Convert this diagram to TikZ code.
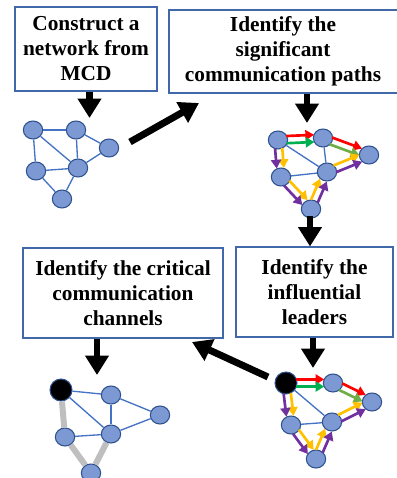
\documentclass[tikz,border=0pt]{standalone}
\usepackage{fontspec}
\setmainfont{Liberation Serif}
\definecolor{nodeblue}{RGB}{125, 153, 212}
\definecolor{nodeline}{RGB}{47, 82, 143}
\definecolor{edgeblue}{RGB}{68, 114, 196}
\definecolor{boxline}{RGB}{65, 105, 170}
\definecolor{pathred}{RGB}{255, 0, 0}
\definecolor{pathgreen}{RGB}{0, 176, 80}
\definecolor{patholive}{RGB}{112, 173, 71}
\definecolor{pathorange}{RGB}{255, 192, 0}
\definecolor{pathpurple}{RGB}{112, 48, 160}
\definecolor{channelgrey}{RGB}{191, 191, 191}
\usetikzlibrary{shapes.geometric, arrows.meta, calc}

\tikzset{
  stepbox/.style={draw=boxline, line width=0.8pt, fill=white, align=center, inner sep=0pt,
    font=\fontsize{16}{18.75}\selectfont\bfseries},
  member/.style={ellipse, draw=nodeline, line width=0.8pt, fill=nodeblue, inner sep=0pt,
    minimum width=14.5pt, minimum height=13.5pt},
  leader/.style={member, fill=black, minimum width=16.5pt, minimum height=16.5pt},
  link/.style={edgeblue, line width=1pt},
  critical/.style={channelgrey, line width=4.5pt},
  bigarrow/.style={line width=5.2pt, -{Triangle[width=17pt, length=14.5pt]}},
  patharrow/.style={line width=2pt, -{Triangle[width=7.5pt, length=6.5pt]},
    shorten <=6.3pt, shorten >=6.6pt}
}

% two parallel coloured paths from #1 to #2
\newcommand{\pathpair}[4]{%
  \draw[patharrow, #3] ($(#1)!2.7pt!90:(#2)$) -- ($(#2)!2.7pt!-90:(#1)$);
  \draw[patharrow, #4] ($(#1)!2.7pt!-90:(#2)$) -- ($(#2)!2.7pt!90:(#1)$);
}

\begin{document}
\begin{tikzpicture}[x=0.75pt, y=-0.75pt]
  \useasboundingbox (0,0) rectangle (396,478);

  % steps
  \node[stepbox, minimum width=180pt, minimum height=62.25pt] (paths) at (289,51.5)
    {\hspace*{-9pt}Identify the\\\hspace*{-9pt}significant\\\hspace*{-9pt}communication paths};
  \node[stepbox, minimum width=106.5pt, minimum height=63pt] (construct) at (86,49)
    {Construct a\\network from\\MCD};
  \node[stepbox, minimum width=150pt, minimum height=67.5pt] (channels) at (123,293)
    {Identify the critical\\communication\\channels};
  \node[stepbox, minimum width=117.75pt, minimum height=67.5pt] (leaders) at (314.5,292)
    {Identify the\\influential\\leaders};

  % network from MCD
  \node[member] (n1a) at (33,130) {};
  \node[member] (n1b) at (76,130) {};
  \node[member] (n1c) at (109,148) {};
  \node[member] (n1d) at (36,171) {};
  \node[member] (n1e) at (78,168) {};
  \node[member] (n1f) at (62,199) {};
  \foreach \u/\v in {a/b, a/d, a/e, b/e, b/c, c/e, d/e, d/f, e/f}
    \draw[link] (n1\u) -- (n1\v);

  % significant paths
  \node[member] (n2a) at (278,140) {};
  \node[member] (n2b) at (323,138) {};
  \node[member] (n2c) at (369,155) {};
  \node[member] (n2d) at (281,177) {};
  \node[member] (n2e) at (327,172) {};
  \node[member] (n2f) at (311,209) {};
  \foreach \u/\v in {a/e, d/e, b/e}
    \draw[link] (n2\u) -- (n2\v);
  \pathpair{n2a}{n2b}{pathred}{pathgreen}
  \pathpair{n2b}{n2c}{pathred}{patholive}
  \pathpair{n2a}{n2d}{pathorange}{pathpurple}
  \pathpair{n2d}{n2f}{pathorange}{pathpurple}
  \pathpair{n2f}{n2e}{pathorange}{pathpurple}
  \pathpair{n2e}{n2c}{pathorange}{pathpurple}

  % influential leaders
  \node[leader] (n4a) at (286,383) {};
  \node[member] (n4b) at (333,383) {};
  \node[member] (n4c) at (372,402) {};
  \node[member] (n4d) at (291,425) {};
  \node[member] (n4e) at (332,422) {};
  \node[member] (n4f) at (316,459) {};
  \foreach \u/\v in {a/e, d/e}
    \draw[link] (n4\u) -- (n4\v);
  \pathpair{n4a}{n4b}{pathred, shorten <=7.8pt}{pathgreen, shorten <=7.8pt}
  \pathpair{n4b}{n4c}{pathred}{patholive}
  \pathpair{n4a}{n4d}{pathorange, shorten <=7.8pt}{pathpurple, shorten <=7.8pt}
  \pathpair{n4d}{n4f}{pathorange}{pathpurple}
  \pathpair{n4f}{n4e}{pathorange}{pathpurple}
  \pathpair{n4e}{n4c}{pathorange}{pathpurple}

  % critical channels
  \node[leader] (n3a) at (61,390) {};
  \node[member] (n3b) at (111,395) {};
  \node[member] (n3c) at (160,415) {};
  \node[member] (n3d) at (65,437) {};
  \node[member] (n3e) at (111,434) {};
  \node[member] (n3f) at (91,473) {};
  \foreach \u/\v in {a/b, a/e, b/e, b/c, c/e, d/e}
    \draw[link] (n3\u) -- (n3\v);
  \foreach \u/\v in {a/d, d/f, f/e}
    \draw[critical] (n3\u) -- (n3\v);

  % flow between the steps
  \coordinate (n1in) at (89.5,118);
  \coordinate (n1out) at (130,142);
  \coordinate (pathsin) at (199,103);
  \coordinate (n2in) at (307,123);
  \coordinate (n2out) at (310,216);
  \coordinate (n4in) at (313,368);
  \coordinate (n4out) at (268,377);
  \coordinate (channelsin) at (192,342);
  \coordinate (n3in) at (97,375);
  \draw[bigarrow] (construct.south -| n1in) -- (n1in);
  \draw[bigarrow] (n1out) -- (pathsin);
  \draw[bigarrow] (paths.south -| n2in) -- (n2in);
  \draw[bigarrow] (n2out) -- (leaders.north -| n2out);
  \draw[bigarrow] (leaders.south -| n4in) -- (n4in);
  \draw[bigarrow] (n4out) -- (channelsin);
  \draw[bigarrow] (channels.south -| n3in) -- (n3in);
\end{tikzpicture}
\end{document}
